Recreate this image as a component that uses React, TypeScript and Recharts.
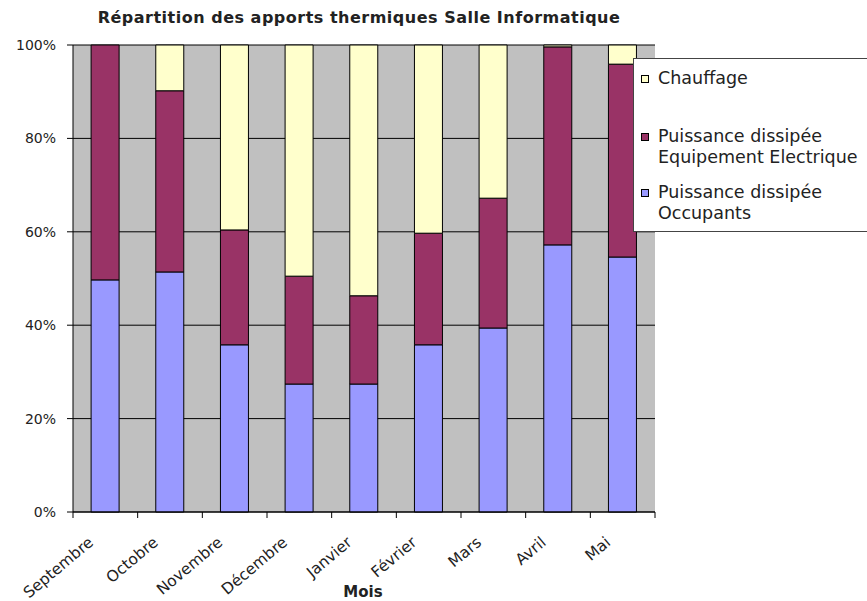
import React from 'react';
import { BarChart, Bar, XAxis, YAxis, CartesianGrid } from 'recharts';

const months = ['Septembre', 'Octobre', 'Novembre', 'Décembre', 'Janvier', 'Février', 'Mars', 'Avril', 'Mai'];
// parts in % of the monthly total
const occupants = [49.7, 51.4, 35.8, 27.4, 27.4, 35.8, 39.4, 57.2, 54.6];
const equipement = [50.3, 38.8, 24.6, 23.1, 18.9, 23.9, 27.8, 42.4, 41.3];
const chauffage = [0, 9.8, 39.6, 49.5, 53.7, 40.3, 32.8, 0.4, 4.1];
const yTicks = [0, 20, 40, 60, 80, 100];

const data = months.map((mois, i) => ({
  mois,
  occupants: occupants[i],
  equipement: equipement[i],
  chauffage: chauffage[i],
}));

const W = 867;
const H = 601;
const MARGIN = { top: 45, right: 212, bottom: 0, left: 13 };
const Y_WIDTH = 60;
const BAND = (W - MARGIN.left - Y_WIDTH - MARGIN.right) / months.length;
const FONT = '"DejaVu Sans", Arial, sans-serif';

function MonthTick(props: any) {
  const { x, y, payload, index } = props;
  const last = index === months.length - 1;
  return (
    <g>
      <line x1={x - BAND / 2} x2={x - BAND / 2} y1={y} y2={y + 6} stroke="#000" />
      {last && <line x1={x + BAND / 2} x2={x + BAND / 2} y1={y} y2={y + 6} stroke="#000" />}
      <text
        transform={`translate(${x - 11},${y + 32}) rotate(-40)`}
        textAnchor="end"
        fontSize={15.5}
        fontFamily={FONT}
        fill="#222"
      >
        {payload.value}
      </text>
    </g>
  );
}

const legendItems = [
  { color: '#FFFFCC', lines: ['Chauffage'], top: 68 },
  { color: '#993366', lines: ['Puissance dissipée', 'Equipement Electrique'], top: 126 },
  { color: '#9999FF', lines: ['Puissance dissipée', 'Occupants'], top: 182 },
];

export default function App() {
  return (
    <div style={{ position: 'absolute', left: 0, top: 0, width: W, height: H, background: '#fff', fontFamily: FONT }}>
      <div
        style={{
          position: 'absolute',
          left: 0,
          top: 8,
          width: 718,
          textAlign: 'center',
          fontSize: 16,
          letterSpacing: 0.5,
          fontWeight: 'bold',
          color: '#222',
          whiteSpace: 'nowrap',
        }}
      >
        Répartition des apports thermiques Salle Informatique
      </div>
      <BarChart width={W} height={H} data={data} margin={MARGIN} barCategoryGap="28%">
        <CartesianGrid vertical={false} stroke="#000" fill="#C0C0C0" fillOpacity={1} />
        <XAxis
          dataKey="mois"
          height={89}
          axisLine={{ stroke: '#000' }}
          tickLine={false}
          tickSize={0}
          tickMargin={0}
          interval={0}
          tick={<MonthTick />}
        />
        <YAxis
          domain={[0, 100]}
          ticks={yTicks}
          width={Y_WIDTH}
          tickFormatter={(v: number) => `${v}%`}
          axisLine={{ stroke: '#000' }}
          tickLine={{ stroke: '#000' }}
          tickSize={6}
          tickMargin={11}
          tick={{ fontSize: 14, fill: '#222', fontFamily: FONT }}
        />
        <Bar dataKey="occupants" stackId="a" fill="#9999FF" stroke="#000" strokeWidth={1} isAnimationActive={false} />
        <Bar dataKey="equipement" stackId="a" fill="#993366" stroke="#000" strokeWidth={1} isAnimationActive={false} />
        <Bar dataKey="chauffage" stackId="a" fill="#FFFFCC" stroke="#000" strokeWidth={1} isAnimationActive={false} />
      </BarChart>
      <div
        style={{
          position: 'absolute',
          left: 363,
          top: 583,
          width: 0,
          display: 'flex',
          justifyContent: 'center',
          fontSize: 15,
          fontWeight: 'bold',
          color: '#222',
          whiteSpace: 'nowrap',
        }}
      >
        Mois
      </div>
      <div
        style={{
          position: 'absolute',
          left: 633,
          top: 58,
          width: 250,
          height: 174,
          background: '#fff',
          border: '1px solid #444',
          boxSizing: 'border-box',
        }}
      />
      {legendItems.map((it) => (
        <div key={it.color} style={{ position: 'absolute', left: 641, top: it.top }}>
          <div
            style={{
              position: 'absolute',
              left: 0,
              top: 7,
              width: 6,
              height: 6,
              background: it.color,
              border: '1px solid #000',
            }}
          />
          <div style={{ position: 'absolute', left: 17, top: 0, fontSize: 17.5, lineHeight: '21px', color: '#222', whiteSpace: 'nowrap' }}>
            {it.lines.map((l) => (
              <div key={l}>{l}</div>
            ))}
          </div>
        </div>
      ))}
    </div>
  );
}
